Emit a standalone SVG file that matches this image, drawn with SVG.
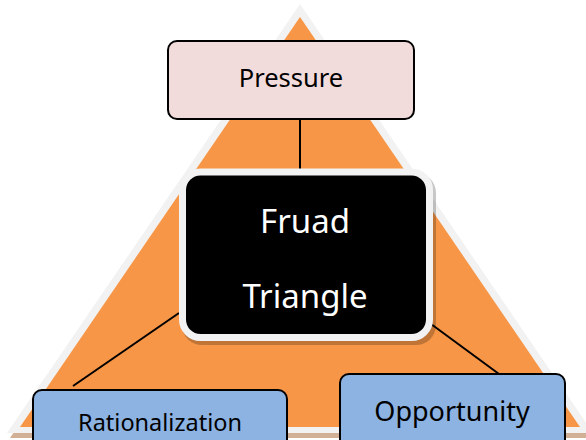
<svg xmlns="http://www.w3.org/2000/svg" width="586" height="440" viewBox="0 0 586 440">
<style>
.lbl{font-family:"Noto Sans","Liberation Sans",sans-serif;fill:#000;text-anchor:middle}
.big{font-family:"Noto Sans","Liberation Sans",sans-serif;fill:#fff;text-anchor:middle;font-size:33px}
.box{stroke:#000;stroke-width:2}
.conn{stroke:#000;stroke-width:2;fill:none}
</style>
<g id="triangle">
<polygon points="300,9 10,438 596,438" fill="#c9a283" opacity="0.85"/>
<polygon points="300,4 7,433 593,433" fill="#f2f2f2"/>
<polygon points="300,17 20,427 580,427" fill="#f79646"/>
</g>
<g id="connectors">
<line class="conn" x1="300" y1="119" x2="300" y2="170"/>
<line class="conn" x1="73" y1="386" x2="179" y2="313"/>
<line class="conn" x1="431" y1="324" x2="499" y2="374"/>
</g>
<g id="pressure">
<rect class="box" x="168" y="41" width="246" height="78" rx="9" fill="#f2dcdb"/>
<text class="lbl" x="291" y="87" font-size="25.5">Pressure</text>
</g>
<g id="fraud-triangle">
<rect x="182" y="173" width="254" height="172" rx="20" fill="#000" opacity="0.22"/>
<rect x="182.5" y="172" width="247" height="165.5" rx="18" fill="#000" stroke="#f2f2f2" stroke-width="7"/>
<text class="big" x="305" y="233">Fruad</text>
<text class="big" x="305" y="308">Triangle</text>
</g>
<g id="rationalization">
<rect class="box" x="33" y="390" width="254" height="70" rx="9" fill="#8db3e2"/>
<text class="lbl" x="160" y="431" font-size="23.5">Rationalization</text>
</g>
<g id="opportunity">
<rect class="box" x="340" y="374" width="225" height="86" rx="9" fill="#8db3e2"/>
<text class="lbl" x="452" y="421" font-size="27">Opportunity</text>
</g>
</svg>
